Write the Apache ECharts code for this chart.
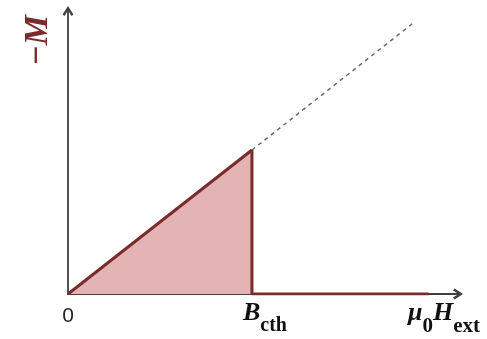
<!DOCTYPE html>
<html>
<head>
<meta charset="utf-8">
<script src="https://cdn.jsdelivr.net/npm/echarts@6/dist/echarts.min.js"></script>
<style>
  html, body { margin: 0; padding: 0; background: #ffffff; }
  #chart { width: 487px; height: 339px; }
</style>
</head>
<body>
<div id="chart"></div>
<script>
// Field in units of B_cth, magnetization in units of -M(B_cth)
const criticalField = 1;
const fieldMax = 2.12;
const magnetizationMax = 1.965;

// Meissner state: -M grows linearly with the applied field
const meissnerBranch = [[0, 0], [1, 1]];
// At B_cth the magnetization collapses and stays zero in the normal state
const normalBranch = [[1, 1], [1, 0], [1.96, 0]];
// Linear continuation of the Meissner response beyond B_cth
const extrapolation = [[1, 1], [1.875, 1.88]];

// Labelled field values on the horizontal axis
const xTickValues = [0, 1];

const maroon = '#7a2c2c';
const fillPink = '#e4b4b4';
const axisGrey = '#3f3f3f';
const serif = '"Liberation Serif", "DejaVu Serif", serif';

// open chevron arrow head, pointing up in symbol space
const arrowHead = 'path://M5,0 L10,7.8 L8.2,9.3 L5,4 L1.8,9.3 L0,7.8 Z';

const chart = echarts.init(document.getElementById('chart'), null, { renderer: 'canvas' });

const subStyle = {
  fontFamily: serif, fontWeight: 'bold', fontSize: 20, color: '#111',
  lineHeight: 20, verticalAlign: 'top', padding: [19, 0, 0, 0]
};
const mainStyle = {
  fontFamily: serif, fontWeight: 'bold', fontStyle: 'italic', fontSize: 26,
  color: '#111', lineHeight: 32, verticalAlign: 'middle'
};

chart.setOption({
  animation: false,
  backgroundColor: '#ffffff',
  grid: { left: 68, right: 29, top: 11, bottom: 45, containLabel: false },
  xAxis: {
    type: 'value',
    min: 0,
    max: fieldMax,
    splitLine: { show: false },
    axisTick: { show: false },
    axisLine: {
      lineStyle: { color: axisGrey, width: 1.8 },
      symbol: ['none', arrowHead],
      symbolSize: [12, 10]
    },
    axisLabel: {
      customValues: xTickValues,
      margin: 3,
      formatter: v => (v === criticalField ? '{b|B}{s|cth}' : '{z|0}'),
      rich: {
        z: { fontFamily: '"Liberation Sans", sans-serif', fontSize: 21, color: '#262626', lineHeight: 39 },
        b: Object.assign({}, mainStyle, { padding: [0, 0, 0, 26] }),
        s: subStyle
      }
    },
    name: '{h|μ}{s|0}{h|H}{s|ext}',
    nameLocation: 'end',
    nameGap: 22,
    nameMoveOverlap: false,
    nameTextStyle: {
      align: 'right',
      verticalAlign: 'top',
      padding: [3, 0, 0, 0],
      rich: { h: mainStyle, s: Object.assign({}, subStyle, { fontSize: 21 }) }
    }
  },
  yAxis: {
    type: 'value',
    min: 0,
    max: magnetizationMax,
    splitLine: { show: false },
    axisTick: { show: false },
    axisLabel: { show: false },
    axisLine: {
      lineStyle: { color: axisGrey, width: 1.8 },
      symbol: ['none', arrowHead],
      symbolSize: [12, 10]
    }
  },
  graphic: [{
    type: 'text',
    x: 38.6,
    y: 40.5,
    rotation: Math.PI / 2,
    style: {
      text: '−M',
      fontFamily: serif,
      fontWeight: 'bold',
      fontStyle: 'italic',
      fontSize: 34,
      fill: maroon,
      align: 'center',
      verticalAlign: 'middle'
    }
  }],
  series: [
    {
      type: 'line',
      data: meissnerBranch,
      symbol: 'none',
      lineStyle: { color: maroon, width: 3 },
      areaStyle: { color: fillPink, opacity: 1, origin: 'start' },
      z: 3
    },
    {
      type: 'line',
      data: normalBranch,
      symbol: 'none',
      lineStyle: { color: maroon, width: 3 },
      z: 4
    },
    {
      type: 'line',
      data: extrapolation,
      symbol: 'none',
      lineStyle: { color: '#6a6a6a', width: 1.5, type: [4, 4] },
      z: 2
    }
  ]
});
</script>
</body>
</html>
